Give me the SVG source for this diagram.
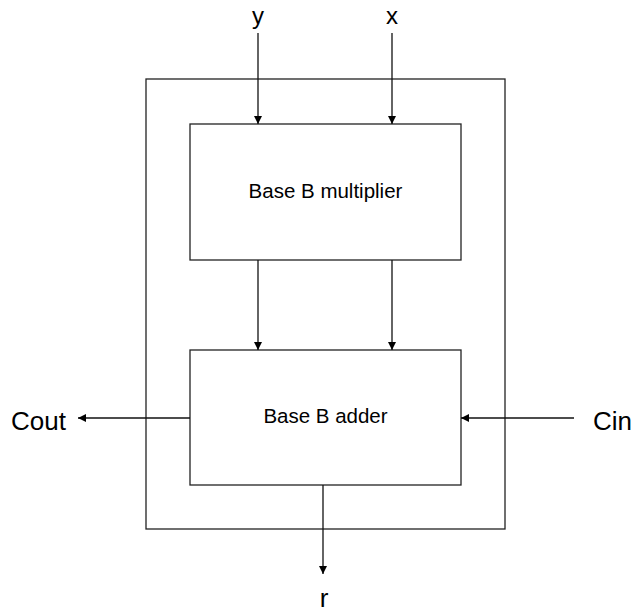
<svg xmlns="http://www.w3.org/2000/svg" width="639" height="613" viewBox="0 0 639 613">
<style>
.box{fill:#fff;stroke:#222;stroke-width:1.3}
.c{stroke:#111;stroke-width:1.3;fill:none;marker-end:url(#ah)}
.lbl{font-family:"Liberation Sans",Arial,sans-serif;fill:#000}
.big{font-size:26px}
.top{font-size:24px}
.mid{font-size:20.5px}
</style>
<defs>
<marker id="ah" viewBox="0 0 10 10" refX="10" refY="5" markerWidth="8" markerHeight="8" markerUnits="userSpaceOnUse" orient="auto">
<path d="M0,0 L10,5 L0,10 Z" fill="#000"/>
</marker>
</defs>
<rect width="639" height="613" fill="#fff"/>
<g id="outer"><rect x="146" y="79" width="359" height="450" fill="none" stroke="#222" stroke-width="1.3"/></g>
<g id="multiplier"><rect class="box" x="190" y="124" width="271" height="136"/>
<text class="lbl mid" x="325.5" y="198" text-anchor="middle">Base B multiplier</text></g>
<g id="adder"><rect class="box" x="190" y="350" width="271" height="135"/>
<text class="lbl mid" x="325.5" y="423" text-anchor="middle">Base B adder</text></g>
<g id="label-y"><text class="lbl top" x="258" y="24" text-anchor="middle">y</text></g>
<g id="label-x"><text class="lbl top" x="392" y="24" text-anchor="middle">x</text></g>
<g id="label-r"><text class="lbl big" x="324" y="607" text-anchor="middle">r</text></g>
<g id="label-cout"><text class="lbl big" x="11" y="430">Cout</text></g>
<g id="label-cin"><text class="lbl big" x="593" y="430">Cin</text></g>
<g id="connectors">
<line class="c" x1="258" y1="33" x2="258" y2="124"/>
<line class="c" x1="392" y1="33" x2="392" y2="124"/>
<line class="c" x1="258" y1="260" x2="258" y2="350"/>
<line class="c" x1="392" y1="260" x2="392" y2="350"/>
<line class="c" x1="190" y1="418" x2="78" y2="418"/>
<line class="c" x1="574" y1="418" x2="461" y2="418"/>
<line class="c" x1="323" y1="485" x2="323" y2="574"/>
</g>
</svg>
